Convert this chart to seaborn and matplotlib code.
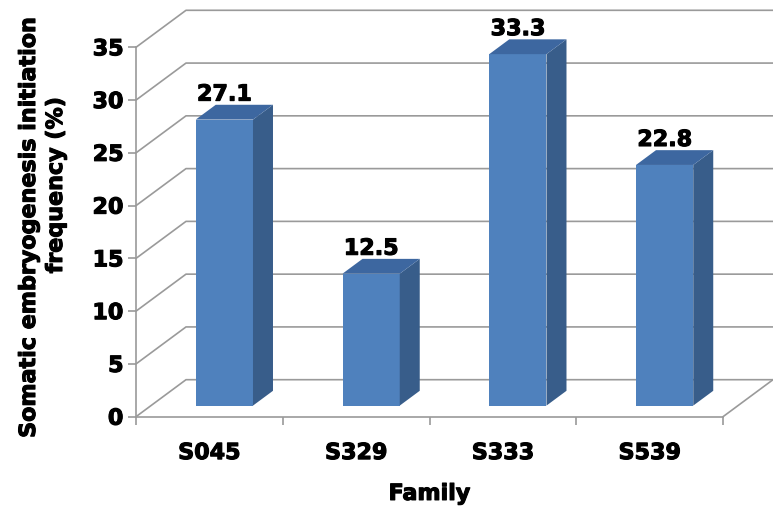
import matplotlib
matplotlib.use("Agg")
import matplotlib.pyplot as plt
import matplotlib.patheffects as pe
from matplotlib.patches import Polygon
from matplotlib.transforms import Affine2D
import seaborn as sns
import pandas as pd

# Somatic embryogenesis initiation frequency per family
families = ["S045", "S329", "S333", "S539"]
frequency = [27.1, 12.5, 33.3, 22.8]
y_ticks = [0, 5, 10, 15, 20, 25, 30, 35]
value_labels = ["27.1", "12.5", "33.3", "22.8"]

FRONT = "#4F81BD"
SIDE = "#385D8A"
TOP = "#3D67A0"
GRID = "#9A9A9A"
FS = 16
HEAVY = [pe.withStroke(linewidth=0.8, foreground="black")]

sns.set_theme(style="white")
plt.rcParams["font.family"] = ["DejaVu Sans"]
plt.rcParams["font.weight"] = "bold"
plt.rcParams["text.color"] = "black"
plt.rcParams["axes.labelcolor"] = "black"
plt.rcParams["xtick.labelcolor"] = "black"
plt.rcParams["ytick.labelcolor"] = "black"

W, H = 773, 510
fig = plt.figure(figsize=(W / 100, H / 100), dpi=100)
ax = fig.add_axes([136 / W, 1 - 417.7 / H, (723 - 136) / W, (417.7 - 48.3) / H])

df = pd.DataFrame({"Family": families, "Frequency": frequency})
sns.barplot(data=df, x="Family", y="Frequency", color=FRONT, width=0.39,
            saturation=1, ax=ax, edgecolor="none", linewidth=0, zorder=3)
ax.set_xlim(-0.5, 3.5)
ax.set_ylim(0, 35)

# oblique depth vector of the 3-D box (data units)
DX, DY = 0.3407, 3.506
F0, FB = 0.30, 0.40          # bar front position and bar depth as depth fractions
bx, by = FB * DX, FB * DY
tr = Affine2D().translate(F0 * DX, F0 * DY) + ax.transData

# back wall gridlines and floor
for v in y_ticks:
    ax.plot([-0.5, -0.5 + DX, 3.5 + DX], [v, v + DY, v + DY], color=GRID,
            lw=1.2, clip_on=False, zorder=0.5)
ax.plot([3.5, 3.5 + DX], [0, DY], color=GRID, lw=1.2, clip_on=False, zorder=0.5)

# extrude bars
for p, lab in zip(list(ax.patches), value_labels):
    x0, w, h = p.get_x(), p.get_width(), p.get_height()
    p.set_transform(tr)
    p.set_clip_on(False)
    side = Polygon([(x0 + w, 0), (x0 + w + bx, by), (x0 + w + bx, h + by), (x0 + w, h)],
                   closed=True, facecolor=SIDE, edgecolor="none", transform=tr,
                   clip_on=False, zorder=3)
    top = Polygon([(x0, h), (x0 + w, h), (x0 + w + bx, h + by), (x0 + bx, h + by)],
                  closed=True, facecolor=TOP, edgecolor="none", transform=tr,
                  clip_on=False, zorder=3)
    ax.add_patch(side)
    ax.add_patch(top)
    ax.annotate(lab, xy=(x0 + w / 2, h + by), xycoords=tr, xytext=(0, 3),
                textcoords="offset points", ha="center", va="baseline",
                fontsize=FS, fontweight="bold", color="black",
                annotation_clip=False, path_effects=HEAVY)

for s in ["top", "right"]:
    ax.spines[s].set_visible(False)
for s in ["left", "bottom"]:
    ax.spines[s].set_color(GRID)
    ax.spines[s].set_linewidth(1.2)
    ax.spines[s].set_zorder(0.6)

ax.set_yticks(y_ticks)
ax.set_yticklabels([str(t) for t in y_ticks])
ax.set_xticks(range(len(families)))
ax.set_xticklabels(families)
ax.set_xticks([-0.5, 0.5, 1.5, 2.5, 3.5], minor=True)
ax.tick_params(axis="y", left=True, length=6, width=1.2, color=GRID, pad=3,
               labelsize=FS, labelcolor="black")
ax.tick_params(axis="x", which="major", bottom=True, length=0, pad=19,
               labelsize=FS, labelcolor="black")
ax.tick_params(axis="x", which="minor", bottom=True, length=6, width=1.2, color=GRID)
for t in ax.get_xticklabels() + ax.get_yticklabels():
    t.set_fontweight("bold")
    t.set_path_effects(HEAVY)

ax.set_xlabel("Family", fontsize=FS, fontweight="bold", labelpad=15, color="black",
              path_effects=HEAVY)
ax.set_ylabel("")

fig.text(29 / W, 1 - 228 / H, "Somatic embryogenesis initiation", rotation=90,
         ha="center", va="center", fontsize=FS, fontweight="bold", color="black",
         path_effects=HEAVY)
fig.text(56 / W, 1 - 186 / H, "frequency (%)", rotation=90,
         ha="center", va="center", fontsize=FS, fontweight="bold", color="black",
         path_effects=HEAVY)

fig.savefig("out.png", dpi=100, facecolor="white")
